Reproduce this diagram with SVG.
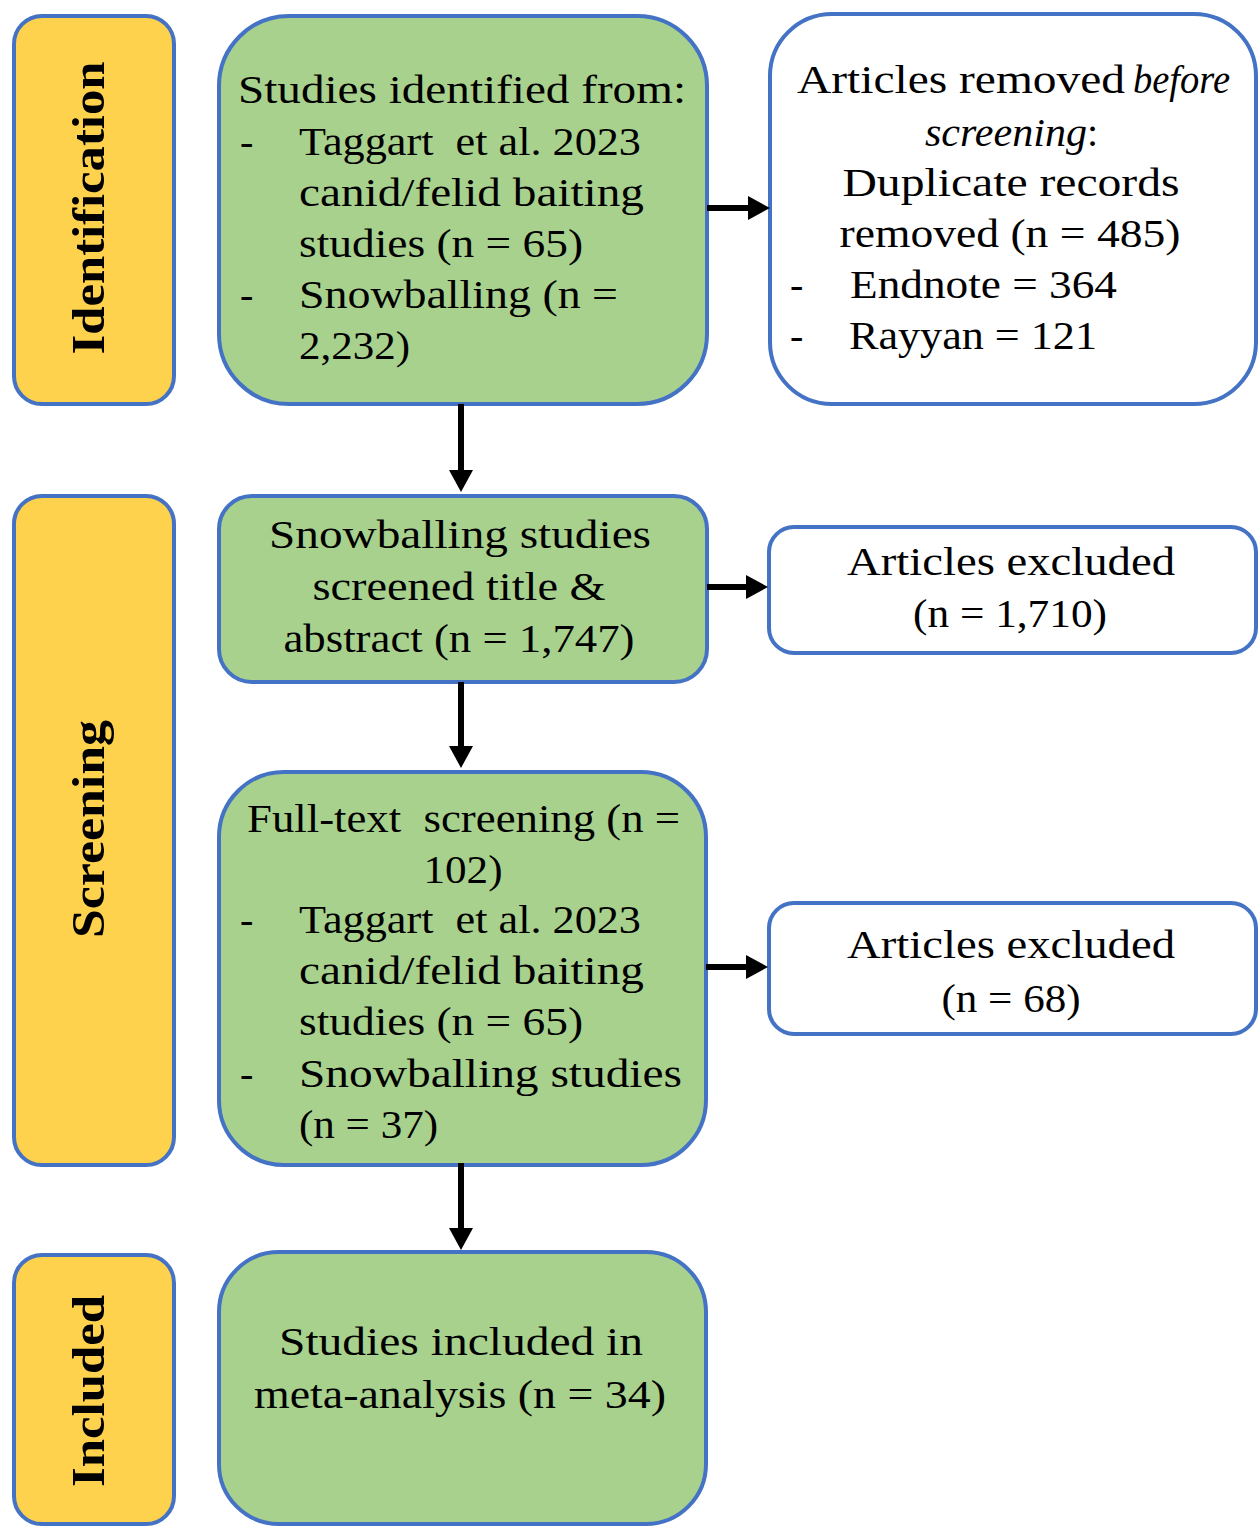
<svg xmlns="http://www.w3.org/2000/svg" width="1260" height="1526" viewBox="0 0 1260 1526">
<style>
.stage{fill:#FFD24D;stroke:#4472C4;stroke-width:4}
.green{fill:#A9D18E;stroke:#4472C4;stroke-width:4}
.white{fill:#FFFFFF;stroke:#4472C4;stroke-width:4}
text{font-family:"Liberation Serif","Times New Roman",serif;font-size:40px;fill:#000}
.lbl{font-weight:bold;font-size:46px;text-anchor:middle}
.c{text-anchor:middle}
.i{font-style:italic}
.conn{stroke:#000;stroke-width:6;fill:none;marker-end:url(#ah)}
</style>
<defs>
<marker id="ah" viewBox="0 0 22 24" refX="10" refY="12" markerWidth="22" markerHeight="24" markerUnits="userSpaceOnUse" orient="auto">
<path d="M0,0 L22,12 L0,24 z" fill="#000"/>
</marker>
</defs>

<g id="stage-identification">
<rect class="stage" x="14" y="16" width="160" height="388" rx="28"/>
<text class="lbl" transform="translate(104,208) rotate(-90)" textLength="293" lengthAdjust="spacingAndGlyphs">Identification</text>
</g>
<g id="stage-screening">
<rect class="stage" x="14" y="496" width="160" height="669" rx="28"/>
<text class="lbl" transform="translate(104,829) rotate(-90)" textLength="218" lengthAdjust="spacingAndGlyphs">Screening</text>
</g>
<g id="stage-included">
<rect class="stage" x="14" y="1255" width="160" height="269" rx="28"/>
<text class="lbl" transform="translate(104,1391) rotate(-90)" textLength="192" lengthAdjust="spacingAndGlyphs">Included</text>
</g>

<g id="node-identified">
<rect class="green" x="219" y="16" width="488" height="388" rx="70"/>
<text x="238" y="103" textLength="448" lengthAdjust="spacingAndGlyphs">Studies identified from:</text>
<text x="240" y="155">-</text>
<text x="299" y="155" textLength="342" lengthAdjust="spacingAndGlyphs">Taggart&#160; et al. 2023</text>
<text x="299" y="206" textLength="345" lengthAdjust="spacingAndGlyphs">canid/felid baiting</text>
<text x="299" y="257" textLength="284" lengthAdjust="spacingAndGlyphs">studies (n = 65)</text>
<text x="240" y="308">-</text>
<text x="299" y="308" textLength="319" lengthAdjust="spacingAndGlyphs">Snowballing (n =</text>
<text x="299" y="359" textLength="111" lengthAdjust="spacingAndGlyphs">2,232)</text>
</g>

<g id="node-removed">
<rect class="white" x="770" y="14" width="486" height="390" rx="62"/>
<text x="797" y="93" textLength="328" lengthAdjust="spacingAndGlyphs">Articles removed</text>
<text class="i" x="1133" y="93" textLength="97" lengthAdjust="spacingAndGlyphs">before</text>
<text class="i" x="925" y="146" textLength="162" lengthAdjust="spacingAndGlyphs">screening</text>
<text x="1087" y="146">:</text>
<text class="c" x="1011" y="196" textLength="337" lengthAdjust="spacingAndGlyphs">Duplicate records</text>
<text class="c" x="1010" y="247" textLength="341" lengthAdjust="spacingAndGlyphs">removed (n = 485)</text>
<text x="790" y="298">-</text>
<text x="850" y="298" textLength="267" lengthAdjust="spacingAndGlyphs">Endnote = 364</text>
<text x="790" y="349">-</text>
<text x="849" y="349" textLength="248" lengthAdjust="spacingAndGlyphs">Rayyan = 121</text>
</g>

<g id="node-screened">
<rect class="green" x="219" y="496" width="488" height="186" rx="33"/>
<text class="c" x="460" y="548" textLength="382" lengthAdjust="spacingAndGlyphs">Snowballing studies</text>
<text class="c" x="459" y="600" textLength="293" lengthAdjust="spacingAndGlyphs">screened title &amp;</text>
<text class="c" x="459" y="652" textLength="351" lengthAdjust="spacingAndGlyphs">abstract (n = 1,747)</text>
</g>

<g id="node-excluded1">
<rect class="white" x="769" y="527" width="487" height="126" rx="25"/>
<text class="c" x="1011" y="575" textLength="328" lengthAdjust="spacingAndGlyphs">Articles excluded</text>
<text class="c" x="1010" y="627" textLength="194" lengthAdjust="spacingAndGlyphs">(n = 1,710)</text>
</g>

<g id="node-fulltext">
<rect class="green" x="219" y="772" width="487" height="393" rx="65"/>
<text x="247" y="832" textLength="433" lengthAdjust="spacingAndGlyphs">Full-text&#160; screening (n =</text>
<text class="c" x="463" y="883" textLength="79" lengthAdjust="spacingAndGlyphs">102)</text>
<text x="240" y="933">-</text>
<text x="299" y="933" textLength="342" lengthAdjust="spacingAndGlyphs">Taggart&#160; et al. 2023</text>
<text x="299" y="984" textLength="345" lengthAdjust="spacingAndGlyphs">canid/felid baiting</text>
<text x="299" y="1035" textLength="284" lengthAdjust="spacingAndGlyphs">studies (n = 65)</text>
<text x="240" y="1087">-</text>
<text x="299" y="1087" textLength="383" lengthAdjust="spacingAndGlyphs">Snowballing studies</text>
<text x="299" y="1138" textLength="139" lengthAdjust="spacingAndGlyphs">(n = 37)</text>
</g>

<g id="node-excluded2">
<rect class="white" x="769" y="903" width="487" height="131" rx="25"/>
<text class="c" x="1011" y="958" textLength="328" lengthAdjust="spacingAndGlyphs">Articles excluded</text>
<text class="c" x="1011" y="1012" textLength="139" lengthAdjust="spacingAndGlyphs">(n = 68)</text>
</g>

<g id="node-included">
<rect class="green" x="219" y="1252" width="487" height="272" rx="60"/>
<text class="c" x="461" y="1355" textLength="364" lengthAdjust="spacingAndGlyphs">Studies included in</text>
<text class="c" x="460" y="1408" textLength="412" lengthAdjust="spacingAndGlyphs">meta-analysis (n = 34)</text>
</g>

<g id="connectors">
<line class="conn" x1="707" y1="208" x2="758" y2="208"/>
<line class="conn" x1="461" y1="404" x2="461" y2="480"/>
<line class="conn" x1="707" y1="587" x2="756" y2="587"/>
<line class="conn" x1="461" y1="682" x2="461" y2="756"/>
<line class="conn" x1="706" y1="967" x2="756" y2="967"/>
<line class="conn" x1="461" y1="1163" x2="461" y2="1238"/>
</g>
</svg>
